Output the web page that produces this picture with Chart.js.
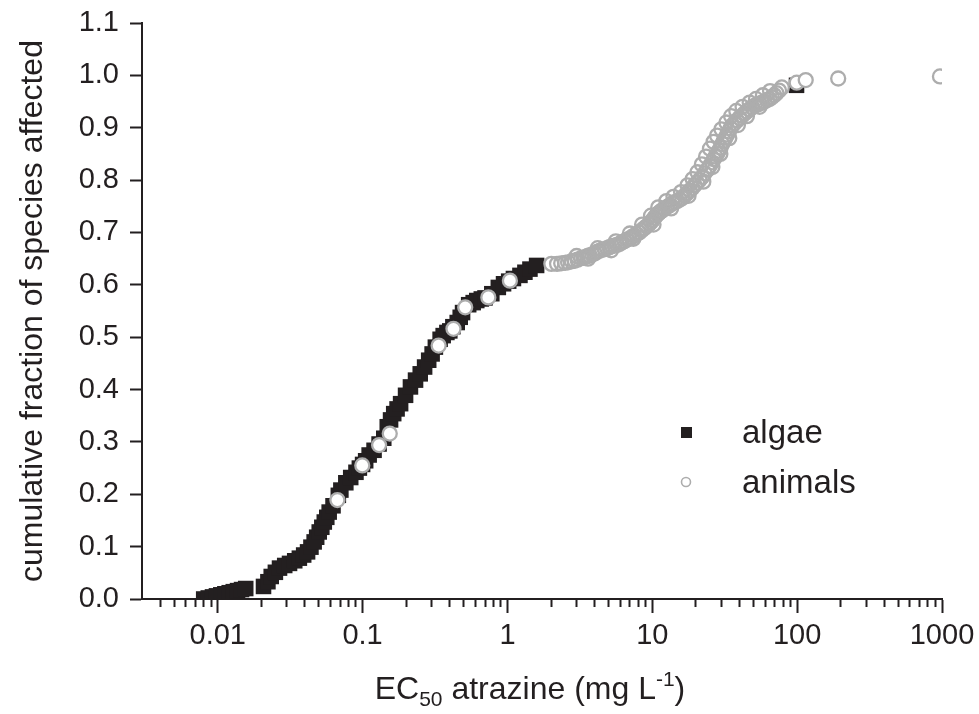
<!DOCTYPE html>
<html>
<head>
<meta charset="utf-8">
<script src="https://cdn.jsdelivr.net/npm/chart.js@4.4.1/dist/chart.umd.min.js"></script>
<style>
  html, body { margin: 0; padding: 0; background: #fff; }
  #wrap { width: 979px; height: 714px; }
</style>
</head>
<body>
<div id="wrap"><canvas id="ssdChart"></canvas></div>
<script>
// algae EC50 (mg/L) and cumulative fraction
const algaeX = [0.0080, 0.0086, 0.0092, 0.0098, 0.0105, 0.0112, 0.0120, 0.0128, 0.0137, 0.0146, 0.0156,
  0.0207, 0.0222, 0.0234, 0.0250, 0.0267, 0.0290, 0.0313, 0.0340, 0.0366, 0.0392, 0.0417, 0.0440, 0.0463,
  0.0482, 0.0502, 0.0523, 0.0544, 0.0566, 0.0588, 0.0625, 0.0680, 0.0708, 0.0766, 0.0828, 0.0900, 0.0950,
  0.1000, 0.1050, 0.1110, 0.1200, 0.1300, 0.1400, 0.1480, 0.1560, 0.1640, 0.1730, 0.1830, 0.1980, 0.2140,
  0.2320, 0.2500, 0.2680, 0.2860, 0.3020, 0.3180, 0.3430, 0.3600, 0.3820, 0.4000, 0.4200, 0.4500, 0.4720,
  0.4900, 0.5400, 0.5800, 0.6140, 0.6600, 0.7000, 0.7800, 0.8650, 0.9400, 1.0200, 1.1000, 1.2200, 1.3200,
  1.4300, 1.5900, 99.0];
const algaeY = [0.000, 0.002, 0.004, 0.006, 0.008, 0.010, 0.012, 0.014, 0.016, 0.018, 0.020,
  0.024, 0.033, 0.043, 0.051, 0.059, 0.064, 0.068, 0.073, 0.078, 0.084, 0.090, 0.099, 0.109,
  0.118, 0.128, 0.137, 0.147, 0.156, 0.166, 0.178, 0.198, 0.208, 0.222, 0.232, 0.242, 0.250,
  0.257, 0.264, 0.275, 0.284, 0.296, 0.307, 0.329, 0.342, 0.354, 0.363, 0.373, 0.389, 0.405,
  0.418, 0.430, 0.443, 0.456, 0.468, 0.481, 0.496, 0.503, 0.509, 0.512, 0.520, 0.528, 0.538,
  0.547, 0.562, 0.566, 0.570, 0.573, 0.575, 0.583, 0.595, 0.602, 0.607, 0.612, 0.618, 0.624,
  0.630, 0.637, 0.981];

// animals
const animalX = [0.067, 0.0995, 0.130, 0.154, 0.335, 0.424, 0.511, 0.738, 1.04,
  2.01, 2.20, 2.35, 2.50, 2.62, 2.78, 2.91, 3.05, 3.23, 3.35, 3.45, 3.58, 3.69, 3.85, 4.00, 4.15,
  4.32, 4.50, 4.70, 4.88, 5.06, 5.28, 5.50, 5.70, 5.93, 6.15, 6.40, 6.65, 6.94, 7.20, 7.50, 7.80,
  8.13, 8.45, 8.80, 9.15, 9.52, 9.80, 10.1, 10.35, 10.6, 10.85, 11.1, 11.4, 11.7, 12.2, 12.7, 13.2,
  13.8, 14.3, 14.9, 15.5, 16.1, 16.7, 17.4, 18.1, 18.9, 19.6, 20.4, 21.2, 22.1, 23.0, 24.0, 24.9,
  25.9, 26.6, 27.3, 28.0, 28.8, 29.6, 30.4, 31.2, 32.0, 32.9, 33.8, 34.7, 35.6, 37.0, 38.5, 40.0,
  41.7, 43.3, 45.0, 46.8, 48.8, 51.0, 53.0, 55.0, 57.1, 59.5, 62.0, 64.5, 66.9, 69.5, 72.0, 75.0,
  78.4, 99.3, 114.6, 192, 968,
  3.0, 4.2, 5.6, 7.0, 8.5, 9.8, 11.0, 12.5, 14.0, 15.8, 17.5, 19.0, 20.5, 22.0, 23.5, 25.0,
  26.5, 28.0, 30.0, 32.5, 35.0, 38.0, 42.0, 47.0, 52.0, 58.0, 65.0,
  3.6, 5.2, 7.4, 10.2, 13.5, 17.8, 22.5, 26.0, 29.5, 34.0, 39.0, 45.0, 55.0];
const animalY = [0.189, 0.255, 0.294, 0.316, 0.484, 0.516, 0.557, 0.576, 0.608,
  0.640, 0.640, 0.641, 0.642, 0.643, 0.645, 0.646, 0.648, 0.651, 0.652, 0.653, 0.655, 0.656, 0.658, 0.660, 0.663,
  0.665, 0.667, 0.668, 0.670, 0.672, 0.674, 0.675, 0.676, 0.678, 0.681, 0.683, 0.686, 0.688, 0.691, 0.694, 0.697,
  0.700, 0.704, 0.708, 0.712, 0.716, 0.720, 0.724, 0.728, 0.732, 0.735, 0.737, 0.740, 0.742, 0.746, 0.749, 0.752,
  0.756, 0.758, 0.760, 0.763, 0.766, 0.770, 0.775, 0.780, 0.785, 0.790, 0.795, 0.800, 0.806, 0.813, 0.820, 0.827,
  0.834, 0.840, 0.845, 0.850, 0.856, 0.862, 0.869, 0.875, 0.881, 0.887, 0.893, 0.899, 0.904, 0.909, 0.914, 0.919,
  0.923, 0.927, 0.931, 0.935, 0.939, 0.942, 0.944, 0.946, 0.948, 0.950, 0.953, 0.955, 0.958, 0.962, 0.966, 0.971,
  0.977, 0.986, 0.991, 0.994, 0.998,
  0.655, 0.670, 0.683, 0.698, 0.715, 0.732, 0.748, 0.760, 0.768, 0.777, 0.790, 0.802, 0.815, 0.830, 0.845, 0.860,
  0.873, 0.885, 0.897, 0.910, 0.922, 0.932, 0.940, 0.948, 0.955, 0.962, 0.970,
  0.650, 0.666, 0.688, 0.715, 0.746, 0.770, 0.797, 0.825, 0.850, 0.880, 0.905, 0.922, 0.940];

const seriesNames = ["algae", "animals"];
const xTickValues = [0.01, 0.1, 1, 10, 100, 1000];
const xTickLabels = ["0.01", "0.1", "1", "10", "100", "1000"];
const yTickLabels = ["0.0", "0.1", "0.2", "0.3", "0.4", "0.5", "0.6", "0.7", "0.8", "0.9", "1.0", "1.1"];

const FONT = '"Liberation Sans", Arial, sans-serif';
const INK = "#231f20";
const GREY = "#adadad";

const toPoints = (xs, ys) => xs.map((x, i) => ({ x: x, y: ys[i] }));

// log minor ticks 2..9 x decade between the axis ends
const minorTicks = [];
[0.001, 0.01, 0.1, 1, 10, 100].forEach((d) => {
  for (let k = 2; k <= 9; k++) {
    const v = d * k;
    if (v > 0.0031 && v < 1000) minorTicks.push(v);
  }
});
const isMajor = (v) => xTickValues.some((t) => Math.abs(v / t - 1) < 1e-6);

// legend inside plot
const legendPlugin = {
  id: "insideLegend",
  afterDraw(chart) {
    const ctx = chart.ctx;
    ctx.save();
    ctx.font = "33px " + FONT;
    ctx.fillStyle = INK;
    ctx.textBaseline = "middle";
    ctx.fillRect(681, 427, 11, 11);
    ctx.fillText(seriesNames[0], 742, 434);
    ctx.beginPath();
    ctx.arc(686, 482, 4.5, 0, Math.PI * 2);
    ctx.strokeStyle = GREY;
    ctx.lineWidth = 1.6;
    ctx.stroke();
    ctx.fillText(seriesNames[1], 742, 484);
    ctx.restore();
  },
};

// x title with subscript / superscript
const xTitlePlugin = {
  id: "xTitle",
  afterDraw(chart) {
    const ctx = chart.ctx;
    const parts = [
      { t: "EC", s: 32, dy: 0 },
      { t: "50", s: 21, dy: 7 },
      { t: " atrazine (mg L", s: 32, dy: 0 },
      { t: "-1", s: 21, dy: -13 },
      { t: ")", s: 32, dy: 0 },
    ];
    ctx.save();
    ctx.fillStyle = INK;
    ctx.textBaseline = "alphabetic";
    let w = 0;
    parts.forEach((p) => {
      ctx.font = p.s + "px " + FONT;
      p.w = ctx.measureText(p.t).width;
      w += p.w;
    });
    let x = 530 - w / 2;
    const base = 699;
    parts.forEach((p) => {
      ctx.font = p.s + "px " + FONT;
      ctx.fillText(p.t, x, base + p.dy);
      x += p.w;
    });
    ctx.restore();
  },
};

const ctx = document.getElementById("ssdChart").getContext("2d");
const ssdChart = new Chart(ctx, {
  type: "scatter",
  data: {
    datasets: [
      {
        label: seriesNames[0],
        data: toPoints(algaeX, algaeY),
        pointStyle: "rect",
        pointRadius: 11,
        pointBorderWidth: 0,
        backgroundColor: INK,
        borderColor: INK,
        order: 2,
      },
      {
        label: seriesNames[1],
        data: toPoints(animalX, animalY),
        pointStyle: "circle",
        pointRadius: 7,
        pointBorderWidth: 2.3,
        // white where the circles sit on the algae squares, open elsewhere
        backgroundColor: (c) => (c.raw && (c.raw.x < 1.5 || c.raw.x > 90) ? "#ffffff" : "rgba(255,255,255,0)"),
        borderColor: GREY,
        order: 1,
      },
    ],
  },
  options: {
    responsive: true,
    maintainAspectRatio: false,
    animation: false,
    layout: { padding: { top: 23, right: 37, left: 0, bottom: 0 } },
    plugins: {
      legend: { display: false },
      tooltip: { enabled: false },
    },
    scales: {
      x: {
        type: "logarithmic",
        min: 0.003,
        max: 1000,
        afterBuildTicks: (scale) => {
          scale.ticks = minorTicks.concat(xTickValues).sort((a, b) => a - b).map((v) => ({ value: v, major: isMajor(v) }));
        },
        afterFit: (scale) => {
          scale.height = 115;
          scale.paddingLeft = 0;
          scale.paddingRight = 0;
        },
        border: { display: true, color: INK, width: 2 },
        grid: {
          drawOnChartArea: false,
          tickLength: 14,
          color: INK,
          tickWidth: 2,
          tickBorderDash: (c) => (c.tick && isMajor(c.tick.value) ? [] : [7, 40]),
        },
        ticks: {
          autoSkip: false,
          maxRotation: 0,
          padding: 6,
          color: INK,
          font: { family: FONT, size: 29 },
          callback: (v) => {
            const i = xTickValues.findIndex((t) => Math.abs(v / t - 1) < 1e-6);
            return i >= 0 ? xTickLabels[i] : "";
          },
        },
      },
      y: {
        type: "linear",
        min: 0,
        max: 1.1,
        afterBuildTicks: (scale) => {
          scale.ticks = yTickLabels.map((l) => ({ value: parseFloat(l) }));
        },
        afterFit: (scale) => {
          scale.width = 142;
          scale.paddingTop = 0;
          scale.paddingBottom = 0;
        },
        border: { display: true, color: INK, width: 2 },
        grid: { drawOnChartArea: false, tickLength: 12, color: INK, tickWidth: 2 },
        ticks: {
          padding: 11,
          color: INK,
          font: { family: FONT, size: 29 },
          callback: (v, i) => yTickLabels[i],
        },
        title: {
          display: true,
          text: "cumulative fraction of species affected",
          color: INK,
          font: { family: FONT, size: 32 },
          padding: { top: 14, bottom: 0 },
        },
      },
    },
  },
  plugins: [legendPlugin, xTitlePlugin],
});
</script>
</body>
</html>
